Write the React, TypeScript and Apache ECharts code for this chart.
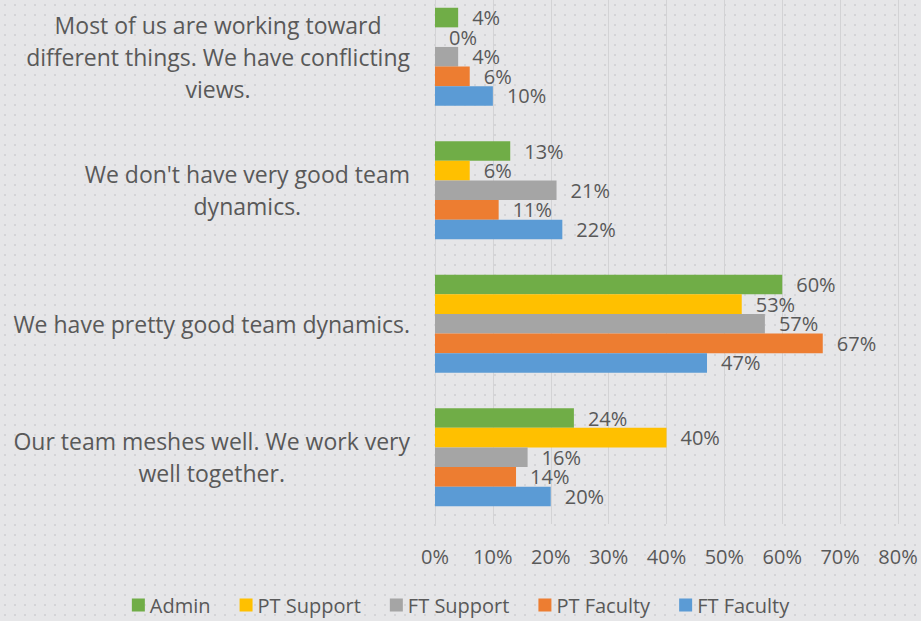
import React, { useEffect, useRef } from "react";
import * as echarts from "echarts";

const categories = [
  "Most of us are working toward\ndifferent things. We have conflicting\nviews.",
  "We don't have very good team\ndynamics.",
  "We have pretty good team dynamics.",
  "Our team meshes well. We work very\nwell together.",
];
const seriesNames = ["Admin", "PT Support", "FT Support", "PT Faculty", "FT Faculty"];
const admin = [4, 13, 60, 24];
const ptSupport = [0, 6, 53, 40];
const ftSupport = [4, 21, 57, 16];
const ptFaculty = [6, 11, 67, 14];
const ftFaculty = [10, 22, 47, 20];
const colors = ["#70AD47", "#FFC000", "#A5A5A5", "#ED7D31", "#5B9BD5"];
const xTicks = [0, 10, 20, 30, 40, 50, 60, 70, 80];

const FONT = "'Open Sans', 'Noto Sans', sans-serif";
const TEXT = "#595959";

function makePattern(): HTMLCanvasElement {
  const c = document.createElement("canvas");
  c.width = 10;
  c.height = 10;
  const ctx = c.getContext("2d")!;
  ctx.fillStyle = "#e6e6e8";
  ctx.fillRect(0, 0, 10, 10);
  ctx.fillStyle = "#d4d4d7";
  ctx.fillRect(4, 4, 2, 2);
  return c;
}

export default function App() {
  const ref = useRef<HTMLDivElement>(null);
  useEffect(() => {
    if (!ref.current) return;
    const chart = echarts.init(ref.current, undefined, { renderer: "svg" });
    const data = [admin, ptSupport, ftSupport, ptFaculty, ftFaculty];
    chart.setOption({
      animation: false,
      backgroundColor: { image: makePattern(), repeat: "repeat" } as any,
      grid: { left: 435, right: 23, top: 0, bottom: 97, containLabel: false },
      legend: {
        data: seriesNames,
        bottom: 1,
        left: "center",
        itemWidth: 13,
        itemHeight: 13,
        itemGap: 29,
        icon: "rect",
        textStyle: { fontFamily: FONT, fontSize: 20, color: TEXT },
      },
      xAxis: {
        type: "value",
        min: 0,
        max: xTicks[xTicks.length - 1],
        interval: 10,
        axisLabel: {
          formatter: "{value}%",
          fontFamily: FONT,
          fontSize: 20,
          color: TEXT,
          margin: 22,
        },
        axisLine: { show: false },
        axisTick: { show: false },
        splitLine: { show: true, lineStyle: { color: "#d3d3d5", width: 1 } },
      },
      yAxis: {
        type: "category",
        data: categories,
        inverse: true,
        axisLine: { show: false },
        axisTick: { show: false },
        axisLabel: {
          align: "right",
          margin: 25,
          formatter: (v: string) =>
            v
              .split("\n")
              .map((l) => `{c|${l}}`)
              .join("\n"),
          rich: {
            c: {
              align: "center",
              fontFamily: FONT,
              fontSize: 23,
              color: TEXT,
              lineHeight: 32,
            },
          },
        },
      },
      series: seriesNames.map((name, i) => ({
        name,
        type: "bar",
        data: data[i],
        barWidth: 19.6,
        barGap: "0%",
        itemStyle: { color: colors[i] },
        label: {
          show: true,
          position: "right",
          distance: 14,
          formatter: "{c}%",
          fontFamily: FONT,
          fontSize: 20,
          lineHeight: 19,
          color: TEXT,
        },
      })),
    });
    return () => chart.dispose();
  }, []);
  return (
    <div
      ref={ref}
      style={{ position: "absolute", left: 0, top: -10, width: 921, height: 631 }}
    />
  );
}
